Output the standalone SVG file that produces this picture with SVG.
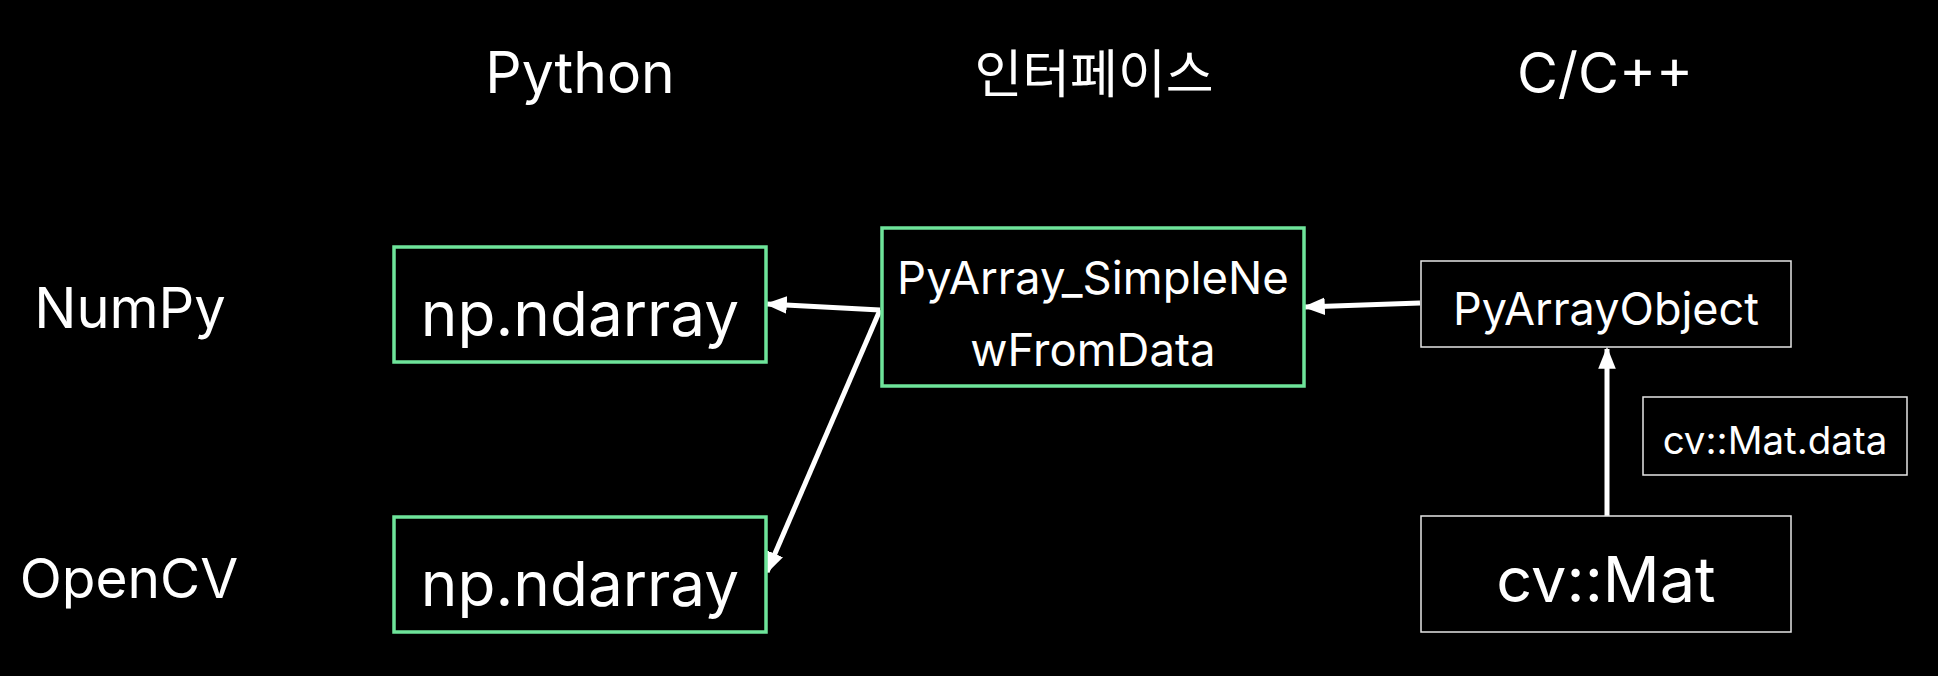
<svg xmlns="http://www.w3.org/2000/svg" width="1938" height="676" viewBox="0 0 1938 676">
<defs>
<style>
text{font-family:Inter,"Noto Sans","Noto Sans CJK KR",sans-serif;fill:#fff;text-anchor:middle}
.g{fill:#000;stroke:#6ee49a;stroke-width:3.5}
.w{fill:#000;stroke:#e6e6e6;stroke-width:1.5}
.c{stroke:#fff;stroke-width:5;fill:none}
</style>
<marker id="ah" viewBox="0 0 20 20" refX="18" refY="10" markerWidth="22" markerHeight="22" markerUnits="userSpaceOnUse" orient="auto">
<path d="M0,2 L20,10 L0,18 Z" fill="#fff"/>
</marker>
</defs>
<rect width="1938" height="676" fill="#000"/>
<g id="headers">
<text x="580" y="93" font-size="57">Python</text>
<text x="1094" y="93" font-size="52" font-family="'Noto Sans CJK KR',sans-serif">인터페이스</text>
<text x="1605" y="93" font-size="56">C/C++</text>
<text x="130" y="328" font-size="56">NumPy</text>
<text x="129" y="598" font-size="55">OpenCV</text>
</g>
<g id="connectors">
<line class="c" x1="880" y1="310" x2="767" y2="304" marker-end="url(#ah)"/>
<line class="c" x1="880" y1="310" x2="767" y2="572" marker-end="url(#ah)"/>
<line class="c" x1="1420" y1="303" x2="1305" y2="307" marker-end="url(#ah)"/>
<line class="c" x1="1607" y1="516" x2="1607" y2="349" marker-end="url(#ah)"/>
</g>
<g id="np-top">
<rect class="g" x="394" y="247" width="372" height="115"/>
<text x="580" y="336" font-size="62">np.ndarray</text>
</g>
<g id="np-bottom">
<rect class="g" x="394" y="517" width="372" height="115"/>
<text x="580" y="606" font-size="62">np.ndarray</text>
</g>
<g id="pyarray-simplenew">
<rect class="g" x="882" y="228" width="422" height="158"/>
<text x="1093" y="294" font-size="45.5">PyArray_SimpleNe</text>
<text x="1093" y="366" font-size="45.5">wFromData</text>
</g>
<g id="pyarrayobject">
<rect class="w" x="1421" y="261" width="370" height="86"/>
<text x="1606" y="325" font-size="45">PyArrayObject</text>
</g>
<g id="mat-data">
<rect class="w" x="1643" y="397" width="264" height="78"/>
<text x="1775" y="454" font-size="38.5">cv::Mat.data</text>
</g>
<g id="cv-mat">
<rect class="w" x="1421" y="516" width="370" height="116"/>
<text x="1606" y="602" font-size="63">cv::Mat</text>
</g>
</svg>
